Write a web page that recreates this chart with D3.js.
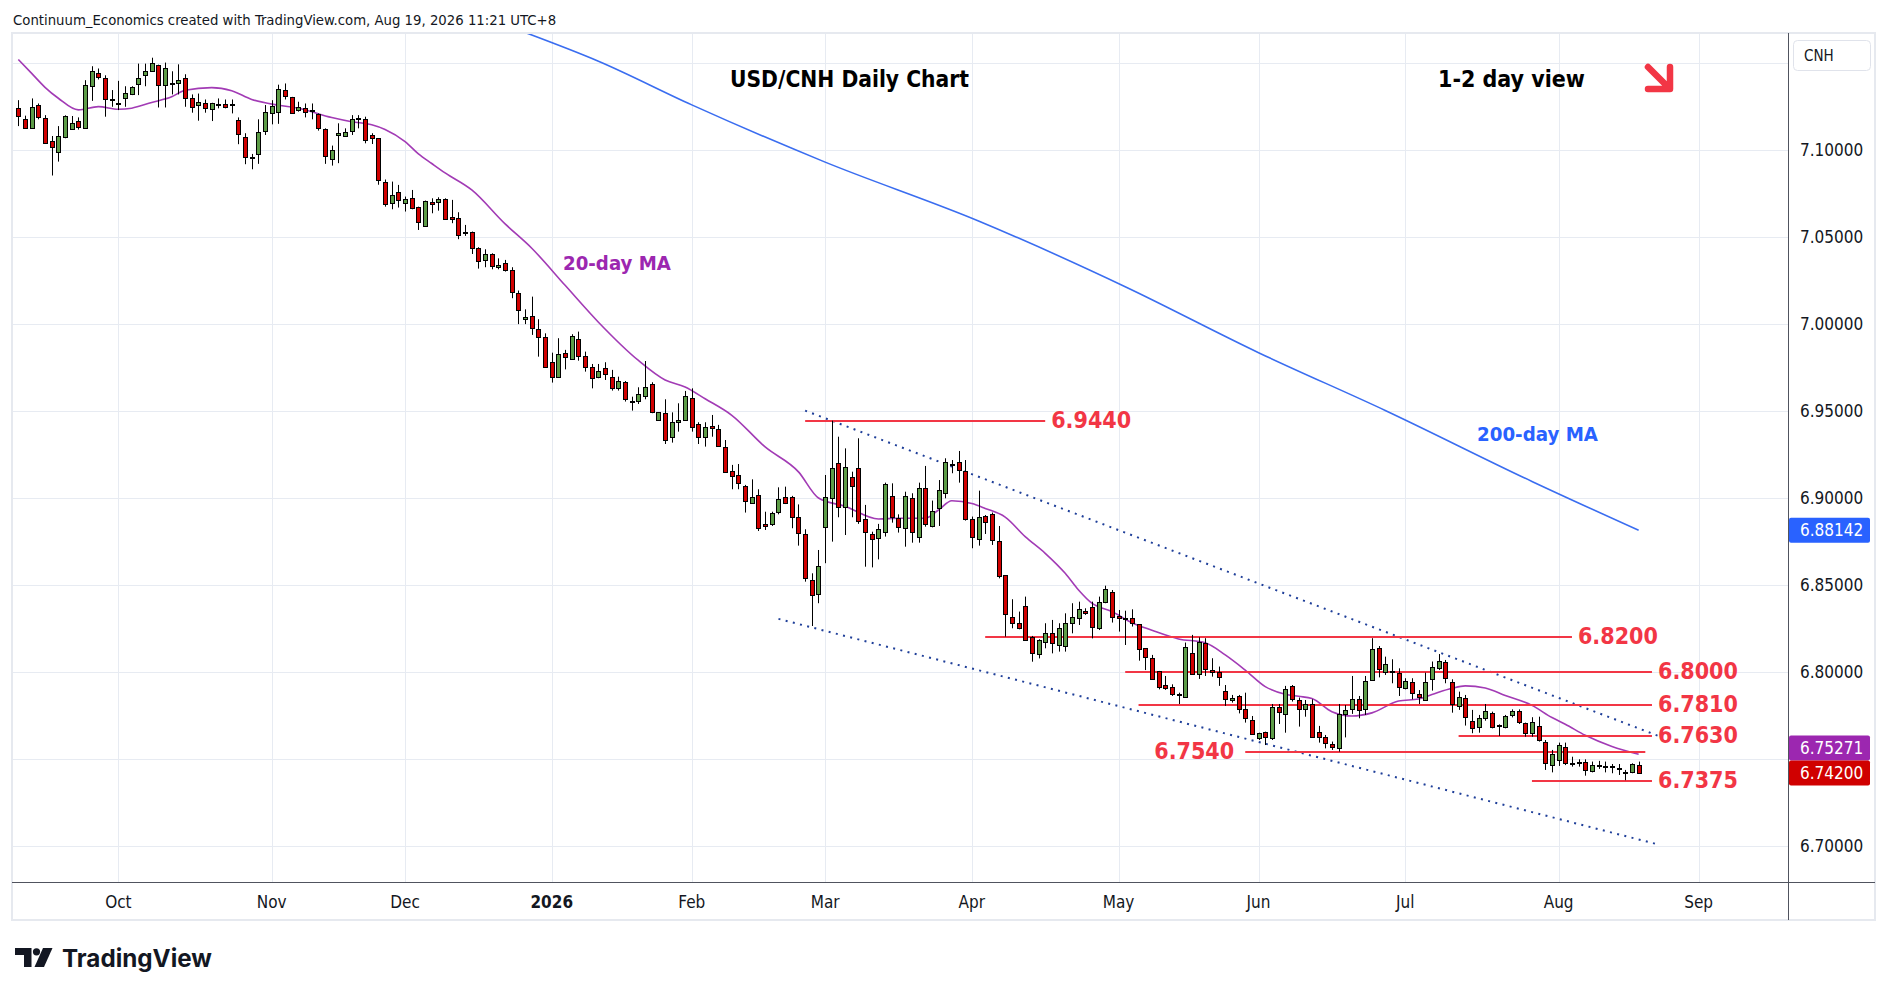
<!DOCTYPE html>
<html>
<head>
<meta charset="utf-8">
<script src="https://cdn.jsdelivr.net/npm/d3@7"></script>
<style>
html, body { margin: 0; padding: 0; background: #fff; }
svg { display: block; }
text { font-family: "DejaVu Sans Condensed", "DejaVu Sans", sans-serif; font-stretch: condensed; }
</style>
</head>
<body>
<svg id="chart" width="1888" height="996"></svg>
<script>
// ---- trading calendar (weekdays, minus market holidays) ----
var firstDay = "2025-09-10", lastDay = "2026-10-02";
var holidays = ["2025-12-25", "2026-01-01"];

// ---- daily candles, USD/CNH, from 2025-09-10 to 2026-08-19 ----
var opens = [
  7.1239, 7.1178, 7.1128, 7.1256, 7.1181, 7.1052, 7.0987, 7.1073, 7.1118, 7.1164,
  7.1128, 7.1368, 7.1445, 7.1416, 7.1290, 7.1272, 7.1296, 7.1324, 7.1378, 7.1429,
  7.1452, 7.1490, 7.1372, 7.1382, 7.1382, 7.1416, 7.1296, 7.1256, 7.1267, 7.1235,
  7.1262, 7.1262, 7.1262, 7.1172, 7.1073, 7.0962, 7.0975, 7.1109, 7.1214, 7.1220,
  7.1347, 7.1302, 7.1229, 7.1239, 7.1229, 7.1204, 7.1118, 7.0947, 7.1086, 7.1082,
  7.1109, 7.1181, 7.1176, 7.1086, 7.1067, 7.0818, 7.0693, 7.0757, 7.0693, 7.0722,
  7.0674, 7.0565, 7.0703, 7.0699, 7.0716, 7.0617, 7.0611, 7.0531, 7.0531, 7.0435,
  7.0368, 7.0400, 7.0326, 7.0352, 7.0310, 7.0176, 7.0027, 7.0046, 6.9969, 6.9923,
  6.9783, 6.9697, 6.9831, 6.9799, 6.9912, 6.9818, 6.9755, 6.9693, 6.9745, 6.9697,
  6.9630, 6.9665, 6.9559, 6.9557, 6.9588, 6.9653, 6.9448, 6.9487, 6.9349, 6.9435,
  6.9448, 6.9573, 6.9423, 6.9349, 6.9414, 6.9395, 6.9291, 6.9155, 6.9132, 6.9069,
  6.8973, 6.9017, 6.8849, 6.8849, 6.8918, 6.9004, 6.9004, 6.8889, 6.8791, 6.8529,
  6.8446, 6.8835, 6.9000, 6.9199, 6.8946, 6.9123, 6.9171, 6.8877, 6.8791, 6.8768,
  6.8806, 6.9013, 6.8883, 6.8826, 6.8998, 6.8774, 6.9056, 6.8839, 6.8944, 6.9027,
  6.9194, 6.9205, 6.9157, 6.8877, 6.8763, 6.8898, 6.8908, 6.8751, 6.8557, 6.8314,
  6.8280, 6.8381, 6.8203, 6.8103, 6.8174, 6.8226, 6.8155, 6.8151, 6.8280, 6.8308,
  6.8351, 6.8375, 6.8255, 6.8400, 6.8458, 6.8322, 6.8309, 6.8308, 6.8274, 6.8136,
  6.8079, 6.8006, 6.7925, 6.7916, 6.7873, 6.7858, 6.8107, 6.7987, 6.8165, 6.8011,
  6.7998, 6.7891, 6.7839, 6.7862, 6.7785, 6.7724, 6.7619, 6.7653, 6.7622, 6.7801,
  6.7757, 6.7920, 6.7839, 6.7785, 6.7814, 6.7653, 6.7624, 6.7586, 6.7561, 6.7757,
  6.7785, 6.7843, 6.7785, 6.7954, 6.8136, 6.8002, 6.8003, 6.7992, 6.7906, 6.7941,
  6.7874, 6.7839, 6.7958, 6.8021, 6.8056, 6.7944, 6.7807, 6.7849, 6.7720, 6.7682,
  6.7734, 6.7763, 6.7696, 6.7686, 6.7753, 6.7776, 6.7705, 6.7651, 6.7690, 6.7600,
  6.7467, 6.7494, 6.7571, 6.7479, 6.7481, 6.7485, 6.7431, 6.7458, 6.7462, 6.7458,
  6.7448, 6.7428, 6.7427, 6.7465
];
var highs = [
  7.1286, 7.1197, 7.1296, 7.1267, 7.1200, 7.1080, 7.1137, 7.1199, 7.1195, 7.1187,
  7.1401, 7.1481, 7.1468, 7.1429, 7.1344, 7.1397, 7.1366, 7.1366, 7.1496, 7.1496,
  7.1530, 7.1490, 7.1502, 7.1452, 7.1492, 7.1435, 7.1319, 7.1324, 7.1290, 7.1271,
  7.1296, 7.1290, 7.1290, 7.1187, 7.1096, 7.0977, 7.1176, 7.1258, 7.1286, 7.1375,
  7.1382, 7.1305, 7.1277, 7.1267, 7.1267, 7.1210, 7.1124, 7.1025, 7.1153, 7.1124,
  7.1200, 7.1200, 7.1191, 7.1096, 7.1067, 7.0830, 7.0818, 7.0799, 7.0732, 7.0770,
  7.0674, 7.0709, 7.0722, 7.0728, 7.0722, 7.0713, 7.0642, 7.0569, 7.0531, 7.0441,
  7.0429, 7.0406, 7.0377, 7.0368, 7.0326, 7.0192, 7.0084, 7.0157, 7.0027, 6.9946,
  6.9835, 6.9918, 6.9851, 6.9941, 6.9956, 6.9841, 6.9770, 6.9770, 6.9780, 6.9736,
  6.9697, 6.9672, 6.9582, 6.9636, 6.9787, 6.9665, 6.9492, 6.9567, 6.9492, 6.9544,
  6.9615, 6.9630, 6.9435, 6.9435, 6.9477, 6.9420, 6.9333, 6.9190, 6.9195, 6.9075,
  6.9107, 6.9050, 6.8921, 6.8921, 6.9061, 6.9065, 6.9012, 6.8963, 6.8820, 6.8567,
  6.8701, 6.9132, 6.9444, 6.9352, 6.9285, 6.9151, 6.9343, 6.8960, 6.8806, 6.8851,
  6.9088, 6.9084, 6.8906, 6.9036, 6.9027, 6.9088, 6.9184, 6.8985, 6.9103, 6.9228,
  6.9218, 6.9270, 6.9218, 6.8893, 6.9042, 6.8902, 6.8916, 6.8839, 6.8557, 6.8418,
  6.8347, 6.8433, 6.8207, 6.8188, 6.8280, 6.8299, 6.8280, 6.8337, 6.8395, 6.8404,
  6.8366, 6.8404, 6.8433, 6.8496, 6.8471, 6.8356, 6.8352, 6.8360, 6.8274, 6.8136,
  6.8098, 6.8006, 6.7977, 6.7929, 6.7881, 6.8169, 6.8213, 6.8199, 6.8194, 6.8079,
  6.8031, 6.7925, 6.7868, 6.7868, 6.7881, 6.7747, 6.7651, 6.7657, 6.7816, 6.7816,
  6.7920, 6.7925, 6.7853, 6.7839, 6.7843, 6.7690, 6.7638, 6.7600, 6.7816, 6.7810,
  6.7977, 6.7862, 6.7977, 6.8194, 6.8149, 6.8088, 6.8073, 6.8021, 6.7964, 6.7964,
  6.7896, 6.7996, 6.8060, 6.8103, 6.8069, 6.7958, 6.7887, 6.7868, 6.7782, 6.7753,
  6.7816, 6.7772, 6.7699, 6.7753, 6.7785, 6.7785, 6.7709, 6.7740, 6.7743, 6.7609,
  6.7552, 6.7594, 6.7594, 6.7513, 6.7498, 6.7498, 6.7485, 6.7489, 6.7485, 6.7471,
  6.7471, 6.7437, 6.7475, 6.7485
];
var lows = [
  7.1137, 7.1124, 7.1124, 7.1176, 7.1034, 7.0853, 7.0933, 7.1067, 7.1115, 7.1117,
  7.1124, 7.1282, 7.1405, 7.1191, 7.1248, 7.1229, 7.1248, 7.1315, 7.1315, 7.1366,
  7.1448, 7.1244, 7.1244, 7.1319, 7.1319, 7.1248, 7.1214, 7.1168, 7.1214, 7.1166,
  7.1239, 7.1239, 7.1210, 7.1033, 7.0918, 7.0889, 7.0920, 7.1086, 7.1147, 7.1150,
  7.1290, 7.1210, 7.1220, 7.1187, 7.1176, 7.1111, 7.0920, 7.0910, 7.0924, 7.1080,
  7.1086, 7.1124, 7.1038, 7.1034, 7.0800, 7.0674, 7.0659, 7.0669, 7.0646, 7.0659,
  7.0540, 7.0559, 7.0636, 7.0651, 7.0598, 7.0579, 7.0487, 7.0506, 7.0402, 7.0318,
  7.0326, 7.0314, 7.0314, 7.0301, 7.0148, 6.9999, 6.9999, 6.9937, 6.9812, 6.9751,
  6.9663, 6.9697, 6.9739, 6.9793, 6.9789, 6.9726, 6.9630, 6.9688, 6.9678, 6.9617,
  6.9617, 6.9554, 6.9502, 6.9540, 6.9567, 6.9487, 6.9444, 6.9310, 6.9318, 6.9381,
  6.9444, 6.9381, 6.9310, 6.9295, 6.9352, 6.9295, 6.9151, 6.9050, 6.9050, 6.8916,
  6.8973, 6.8810, 6.8816, 6.8839, 6.8906, 6.8965, 6.8826, 6.8726, 6.8519, 6.8264,
  6.8395, 6.8625, 6.8749, 6.8889, 6.8787, 6.8889, 6.8851, 6.8605, 6.8601, 6.8647,
  6.8778, 6.8858, 6.8801, 6.8720, 6.8743, 6.8743, 6.8835, 6.8831, 6.8839, 6.8998,
  6.9142, 6.9088, 6.8870, 6.8711, 6.8726, 6.8793, 6.8730, 6.8538, 6.8203, 6.8251,
  6.8245, 6.8180, 6.8059, 6.8078, 6.8136, 6.8107, 6.8117, 6.8117, 6.8222, 6.8270,
  6.8328, 6.8193, 6.8241, 6.8395, 6.8284, 6.8232, 6.8155, 6.8261, 6.8065, 6.8011,
  6.7958, 6.7900, 6.7897, 6.7862, 6.7816, 6.7858, 6.7983, 6.7960, 6.7977, 6.7973,
  6.7920, 6.7805, 6.7824, 6.7762, 6.7709, 6.7638, 6.7609, 6.7580, 6.7609, 6.7701,
  6.7651, 6.7830, 6.7686, 6.7743, 6.7628, 6.7594, 6.7561, 6.7552, 6.7542, 6.7624,
  6.7759, 6.7734, 6.7753, 6.7950, 6.7969, 6.7983, 6.7935, 6.7862, 6.7900, 6.7843,
  6.7816, 6.7835, 6.7893, 6.8011, 6.7935, 6.7766, 6.7782, 6.7692, 6.7648, 6.7651,
  6.7720, 6.7676, 6.7632, 6.7676, 6.7739, 6.7701, 6.7628, 6.7628, 6.7600, 6.7437,
  6.7423, 6.7460, 6.7465, 6.7456, 6.7456, 6.7404, 6.7423, 6.7443, 6.7423, 6.7418,
  6.7408, 6.7378, 6.7418, 6.7414
];
var closes = [
  7.1197, 7.1128, 7.1244, 7.1191, 7.1038, 7.1019, 7.1082, 7.1193, 7.1153, 7.1134,
  7.1376, 7.1452, 7.1422, 7.1290, 7.1288, 7.1270, 7.1330, 7.1359, 7.1416, 7.1456,
  7.1502, 7.1372, 7.1468, 7.1381, 7.1401, 7.1296, 7.1244, 7.1273, 7.1239, 7.1267,
  7.1261, 7.1244, 7.1261, 7.1090, 7.0958, 7.0961, 7.1105, 7.1220, 7.1254, 7.1353,
  7.1311, 7.1210, 7.1248, 7.1220, 7.1228, 7.1124, 7.0968, 7.1000, 7.1100, 7.1105,
  7.1176, 7.1180, 7.1057, 7.1067, 7.0828, 7.0690, 7.0741, 7.0713, 7.0716, 7.0665,
  7.0584, 7.0709, 7.0688, 7.0716, 7.0602, 7.0602, 7.0511, 7.0530, 7.0435, 7.0362,
  7.0400, 7.0333, 7.0339, 7.0310, 7.0186, 7.0080, 7.0042, 6.9975, 6.9923, 6.9751,
  6.9693, 6.9826, 6.9808, 6.9933, 6.9818, 6.9755, 6.9688, 6.9732, 6.9713, 6.9630,
  6.9672, 6.9567, 6.9558, 6.9596, 6.9640, 6.9492, 6.9492, 6.9333, 6.9435, 6.9448,
  6.9588, 6.9410, 6.9349, 6.9406, 6.9400, 6.9299, 6.9151, 6.9128, 6.9084, 6.8985,
  6.9004, 6.8829, 6.8841, 6.8912, 6.8992, 6.8973, 6.8893, 6.8797, 6.8538, 6.8442,
  6.8609, 6.9008, 6.9171, 6.8946, 6.9176, 6.9069, 6.8868, 6.8806, 6.8763, 6.8820,
  6.9079, 6.8893, 6.8831, 6.9013, 6.8806, 6.9056, 6.8849, 6.8925, 6.9046, 6.9205,
  6.9193, 6.9161, 6.8877, 6.8778, 6.8889, 6.8864, 6.8759, 6.8554, 6.8331, 6.8280,
  6.8255, 6.8184, 6.8107, 6.8184, 6.8222, 6.8165, 6.8251, 6.8280, 6.8318, 6.8360,
  6.8337, 6.8261, 6.8400, 6.8477, 6.8314, 6.8308, 6.8307, 6.8280, 6.8130, 6.8088,
  6.7958, 6.7916, 6.7906, 6.7872, 6.7871, 6.8142, 6.7987, 6.8172, 6.8015, 6.8000,
  6.7973, 6.7843, 6.7852, 6.7785, 6.7734, 6.7642, 6.7647, 6.7624, 6.7801, 6.7768,
  6.7900, 6.7843, 6.7785, 6.7814, 6.7628, 6.7628, 6.7594, 6.7567, 6.7759, 6.7782,
  6.7843, 6.7782, 6.7948, 6.8130, 6.8015, 6.8044, 6.8001, 6.7912, 6.7948, 6.7877,
  6.7854, 6.7941, 6.8031, 6.8063, 6.7964, 6.7814, 6.7854, 6.7739, 6.7676, 6.7734,
  6.7778, 6.7686, 6.7694, 6.7747, 6.7776, 6.7715, 6.7651, 6.7711, 6.7609, 6.7475,
  6.7527, 6.7580, 6.7475, 6.7477, 6.7479, 6.7437, 6.7465, 6.7463, 6.7460, 6.7454,
  6.7446, 6.7426, 6.7469, 6.7420
];

// ---- moving averages (bar number, value) ----
var ma20Bars = [0, 2, 4, 6, 9, 12, 15, 17, 20, 23, 25, 29, 32, 35, 39, 42, 47, 50, 53, 55,
  58, 60, 62, 64, 68, 73, 77, 82, 87, 93, 97, 100, 103, 107, 112, 117, 120, 124, 129, 132,
  136, 138, 140, 143, 145, 148, 151, 154, 157, 159, 161, 164, 167, 170, 174, 178, 181, 184, 187, 190,
  192, 194, 197, 200, 203, 207, 210, 212, 215, 217, 220, 223, 227, 230, 232, 235, 239, 243];
var ma20Values = [7.1520, 7.1440, 7.1360, 7.1297, 7.1230, 7.1249, 7.1234, 7.1240, 7.1273, 7.1305,
  7.1343, 7.1358, 7.1340, 7.1290, 7.1257, 7.1240, 7.1186, 7.1162, 7.1145, 7.1118,
  7.1048, 7.0977, 7.0922, 7.0868, 7.0770, 7.0575, 7.0435, 7.0222, 7.0010, 6.9790,
  6.9678, 6.9638, 6.9570, 6.9475, 6.9293, 6.9150, 6.9000, 6.8952, 6.8879, 6.8883,
  6.8883, 6.8931, 6.8984, 6.8968, 6.8940, 6.8890, 6.8778, 6.8682, 6.8567, 6.8471,
  6.8395, 6.8347, 6.8283, 6.8240, 6.8190, 6.8168, 6.8098, 6.8011, 6.7916, 6.7872,
  6.7860, 6.7848, 6.7772, 6.7747, 6.7765, 6.7833, 6.7845, 6.7870, 6.7906, 6.7920,
  6.7908, 6.7865, 6.7808, 6.7738, 6.7700, 6.7636, 6.7572, 6.75271];
var ma200Bars = [76, 87, 101, 121, 144, 166, 186, 205, 227, 243];
var ma200Values = [7.1675, 7.1510, 7.1259, 7.0930, 7.0592, 7.0214, 6.9835, 6.9503, 6.9095, 6.88142];

// ---- drawn studies ----
var levelPrices = [6.9440, 6.8200, 6.8000, 6.7810, 6.7630, 6.7540, 6.7375];
var levelFrom = ["2026-02-25", "2026-04-03", "2026-05-04", "2026-05-06", "2026-07-13", "2026-05-28", "2026-07-28"];
var levelTo = ["2026-04-16", "2026-08-05", "2026-08-21", "2026-08-21", "2026-08-21", "2026-08-20", "2026-08-21"];
var levelLabelSide = ["right", "right", "right", "right", "right", "left", "right"];
var channelUpper = [["2026-02-25", 6.9502], ["2026-08-24", 6.7632]];
var channelLower = [["2026-02-19", 6.8305], ["2026-08-24", 6.7008]];

// ---- axis labels ----
var monthTickMonths = ["2025-10", "2025-11", "2025-12", "2026-01", "2026-02", "2026-03",
  "2026-04", "2026-05", "2026-06", "2026-07", "2026-08", "2026-09"];
var monthTickLabels = ["Oct", "Nov", "Dec", "2026", "Feb", "Mar", "Apr", "May", "Jun", "Jul", "Aug", "Sep"];
var priceTicks = [7.15, 7.10, 7.05, 7.00, 6.95, 6.90, 6.85, 6.80, 6.75, 6.70];

// ---- layout ----
var W = 1888, H = 996;
var plot = { left: 12, top: 33, right: 1788, bottom: 882 };
var frame = { right: 1875, bottom: 920 };
var barWindow = [-0.95, 265.4];          // visible bar range
var priceWindow = [6.6793, 7.1672];      // visible price range

var upColor = "#5d9c47", downColor = "#d00000";
var levelColor = "#f23645";
var ma20Color = "#a23bb5", ma200Color = "#3a6df0";
var gridColor = "#e7ebf2";
var textColor = "#131722";

var parseDay = d3.utcParse("%Y-%m-%d"), fmtDay = d3.utcFormat("%Y-%m-%d");
var calendar = d3.utcDays(parseDay(firstDay), parseDay(lastDay))
  .filter(function (d) { return d.getUTCDay() % 6 !== 0 && holidays.indexOf(fmtDay(d)) < 0; });
var barOf = {};
calendar.forEach(function (d, i) { barOf[fmtDay(d)] = i; });

var x = d3.scaleLinear().domain(barWindow).range([plot.left, plot.right]);
var y = d3.scaleLinear().domain(priceWindow).range([plot.bottom, plot.top]);

var svg = d3.select("#chart");
svg.append("rect").attr("width", W).attr("height", H).attr("fill", "#fff");

svg.append("clipPath").attr("id", "plotClip")
  .append("rect")
  .attr("x", plot.left).attr("y", plot.top)
  .attr("width", plot.right - plot.left).attr("height", plot.bottom - plot.top);

function fitWidth(t, target) {
  var w = t.node().getComputedTextLength();
  var fs = parseFloat(t.attr("font-size"));
  t.attr("font-size", (fs * target / w).toFixed(2));
  return fs * target / w;
}

// ---- grid ----
var monthStarts = monthTickMonths.map(function (m) {
  return d3.min(calendar.filter(function (d) { return fmtDay(d).slice(0, 7) === m; }), function (d) { return barOf[fmtDay(d)]; });
});

var grid = svg.append("g").attr("clip-path", "url(#plotClip)");
grid.selectAll(".vgrid")
  .data(monthStarts)
  .enter().append("line")
  .attr("class", "vgrid")
  .attr("x1", function (d) { return Math.round(x(d)) + 0.5; })
  .attr("x2", function (d) { return Math.round(x(d)) + 0.5; })
  .attr("y1", plot.top).attr("y2", plot.bottom)
  .attr("stroke", gridColor).attr("stroke-width", 1);

grid.selectAll(".hgrid")
  .data(priceTicks)
  .enter().append("line")
  .attr("class", "hgrid")
  .attr("x1", plot.left).attr("x2", plot.right)
  .attr("y1", function (d) { return Math.round(y(d)) + 0.5; })
  .attr("y2", function (d) { return Math.round(y(d)) + 0.5; })
  .attr("stroke", gridColor).attr("stroke-width", 1);

var chart = svg.append("g").attr("clip-path", "url(#plotClip)");

// ---- moving averages ----
var maLine = d3.line()
  .x(function (d) { return x(d[0]); })
  .y(function (d) { return y(d[1]); })
  .curve(d3.curveMonotoneX);

chart.append("path")
  .datum(d3.zip(ma200Bars, ma200Values))
  .attr("d", maLine)
  .attr("fill", "none")
  .attr("stroke", ma200Color)
  .attr("stroke-width", 1.6);

chart.append("path")
  .datum(d3.zip(ma20Bars, ma20Values))
  .attr("d", maLine)
  .attr("fill", "none")
  .attr("stroke", ma20Color)
  .attr("stroke-width", 1.6);

// ---- channel (dotted) ----
[channelUpper, channelLower].forEach(function (ch) {
  chart.append("line")
    .attr("x1", x(barOf[ch[0][0]])).attr("y1", y(ch[0][1]))
    .attr("x2", x(barOf[ch[1][0]])).attr("y2", y(ch[1][1]))
    .attr("stroke", "#1f3f99")
    .attr("stroke-width", 2)
    .attr("stroke-dasharray", "2 5.4");
});

// ---- horizontal levels ----
chart.selectAll(".level")
  .data(levelPrices)
  .enter().append("line")
  .attr("class", "level")
  .attr("x1", function (d, i) { return x(barOf[levelFrom[i]]); })
  .attr("x2", function (d, i) { return x(barOf[levelTo[i]]); })
  .attr("y1", function (d) { return Math.round(y(d)); })
  .attr("y2", function (d) { return Math.round(y(d)); })
  .attr("stroke", levelColor)
  .attr("stroke-width", 2);

// ---- candles ----
var candles = opens.map(function (o, i) {
  return { bar: i, o: o, h: highs[i], l: lows[i], c: closes[i] };
});

var cg = chart.append("g");
cg.selectAll(".wick")
  .data(candles)
  .enter().append("line")
  .attr("class", "wick")
  .attr("x1", function (d) { return Math.round(x(d.bar)) + 0.5; })
  .attr("x2", function (d) { return Math.round(x(d.bar)) + 0.5; })
  .attr("y1", function (d) { return y(d.h); })
  .attr("y2", function (d) { return y(d.l); })
  .attr("stroke", "#000")
  .attr("stroke-width", 1);

cg.selectAll(".body")
  .data(candles)
  .enter().append("rect")
  .attr("class", "body")
  .attr("x", function (d) { return Math.round(x(d.bar)) - 1.5; })
  .attr("width", 4)
  .attr("y", function (d) { return Math.round(y(Math.max(d.o, d.c))) + 0.5; })
  .attr("height", function (d) {
    return Math.max(1, Math.round(y(Math.min(d.o, d.c))) - Math.round(y(Math.max(d.o, d.c))));
  })
  .attr("fill", function (d) { return d.c >= d.o ? upColor : downColor; })
  .attr("stroke", "#000")
  .attr("stroke-width", 1);

// ---- level labels ----
var levelLabels = svg.append("g");
var probe = levelLabels.append("text").attr("font-size", 23).attr("font-weight", "bold").text("6.8200");
var levelFont = fitWidth(probe, 80);
probe.remove();

levelLabels.selectAll(".levelLabel")
  .data(levelPrices)
  .enter().append("text")
  .attr("class", "levelLabel")
  .attr("x", function (d, i) {
    return levelLabelSide[i] === "right" ? x(barOf[levelTo[i]]) + 6 : x(barOf[levelFrom[i]]) - 11;
  })
  .attr("y", function (d) { return y(d) + 7; })
  .attr("text-anchor", function (d, i) { return levelLabelSide[i] === "right" ? "start" : "end"; })
  .attr("font-size", levelFont.toFixed(2))
  .attr("font-weight", "bold")
  .attr("fill", levelColor)
  .text(function (d) { return d.toFixed(4); });

// ---- chart annotations ----
var t20 = svg.append("text").attr("x", 563).attr("y", 270)
  .attr("font-size", 20).attr("font-weight", "bold").attr("fill", "#9c27b0").text("20-day MA");
fitWidth(t20, 108);
var t200 = svg.append("text").attr("x", 1477).attr("y", 441)
  .attr("font-size", 20).attr("font-weight", "bold").attr("fill", "#2962ff").text("200-day MA");
fitWidth(t200, 121);

var title = svg.append("text").attr("x", 730).attr("y", 87)
  .attr("font-size", 23).attr("font-weight", "bold").attr("fill", "#000").text("USD/CNH Daily Chart");
fitWidth(title, 239);
var view = svg.append("text").attr("x", 1438).attr("y", 87)
  .attr("font-size", 23).attr("font-weight", "bold").attr("fill", "#000").text("1-2 day view");
fitWidth(view, 147);

svg.append("path")
  .attr("d", "M1648,67 L1667,86 M1670,67 L1670,89 L1648,89")
  .attr("fill", "none")
  .attr("stroke", levelColor)
  .attr("stroke-width", 6.5)
  .attr("stroke-linecap", "round")
  .attr("stroke-linejoin", "round");

// ---- frame and axes ----
svg.append("rect")
  .attr("x", plot.left).attr("y", plot.top)
  .attr("width", frame.right - plot.left).attr("height", frame.bottom - plot.top)
  .attr("fill", "none").attr("stroke", "#e6e9ef").attr("stroke-width", 2);

svg.append("line")
  .attr("x1", plot.right + 0.5).attr("x2", plot.right + 0.5)
  .attr("y1", plot.top).attr("y2", frame.bottom)
  .attr("stroke", "#50535e").attr("stroke-width", 1);
svg.append("line")
  .attr("x1", plot.left).attr("x2", frame.right)
  .attr("y1", plot.bottom + 0.5).attr("y2", plot.bottom + 0.5)
  .attr("stroke", "#50535e").attr("stroke-width", 1);

// ---- price tags on the axis (drawn before the labels so labels they cover are skipped) ----
var lastBar = closes.length - 1;
var tagH = 25;
var redY = y(closes[lastBar]);
var purpleY = Math.min(y(ma20Values[ma20Values.length - 1]), redY - tagH);
var tags = [
  { v: ma200Values[ma200Values.length - 1], cy: y(ma200Values[ma200Values.length - 1]), fill: "#2962ff" },
  { v: ma20Values[ma20Values.length - 1], cy: purpleY, fill: "#9c27b0" },
  { v: closes[lastBar], cy: redY, fill: "#d00000" }
];
var symbolBox = { x: 1793.5, y: 40.5, w: 77, h: 30 };

// axis spans already taken by the tags and the symbol box
var taken = tags.map(function (d) { return [d.cy - tagH / 2, d.cy + tagH / 2]; })
  .concat([[symbolBox.y, symbolBox.y + symbolBox.h]]);
var shownTicks = priceTicks.filter(function (p) {
  var c = y(p);
  return taken.every(function (s) { return c + 8 < s[0] || c - 8 > s[1]; });
});

svg.selectAll(".ylab")
  .data(shownTicks)
  .enter().append("text")
  .attr("class", "ylab")
  .attr("x", plot.right + 12)
  .attr("y", function (d) { return y(d) + 6; })
  .attr("font-size", 17)
  .attr("fill", textColor)
  .text(function (d) { return d.toFixed(5); });

svg.selectAll(".xlab")
  .data(monthStarts)
  .enter().append("text")
  .attr("class", "xlab")
  .attr("x", function (d) { return x(d); })
  .attr("y", 908)
  .attr("text-anchor", "middle")
  .attr("font-size", 17)
  .attr("font-weight", function (d, i) { return monthTickLabels[i] === "2026" ? "bold" : "normal"; })
  .attr("fill", textColor)
  .text(function (d, i) { return monthTickLabels[i]; });

var tg = svg.selectAll(".tag").data(tags).enter().append("g").attr("class", "tag");
tg.append("rect")
  .attr("x", plot.right + 1).attr("y", function (d) { return d.cy - tagH / 2; })
  .attr("width", 81).attr("height", tagH).attr("rx", 2)
  .attr("fill", function (d) { return d.fill; });
tg.append("text")
  .attr("x", plot.right + 12).attr("y", function (d) { return d.cy + 6; })
  .attr("font-size", 17).attr("fill", "#fff")
  .text(function (d) { return d.v.toFixed(5); });

// symbol box
svg.append("rect")
  .attr("x", symbolBox.x).attr("y", symbolBox.y)
  .attr("width", symbolBox.w).attr("height", symbolBox.h).attr("rx", 4)
  .attr("fill", "#fff").attr("stroke", "#e0e3eb");
svg.append("text").attr("x", 1804).attr("y", 61)
  .attr("font-size", 15).attr("fill", textColor).text("CNH");

// ---- header and footer ----
var credit = svg.append("text").attr("x", 13).attr("y", 25)
  .attr("font-size", 15).attr("fill", textColor)
  .text("Continuum_Economics created with TradingView.com, Aug 19, 2026 11:21 UTC+8");
fitWidth(credit, 543);

var logo = svg.append("g").attr("fill", textColor);
logo.append("path").attr("d", "M15,948 H31.5 V967 H24 V955 H15 Z");
logo.append("circle").attr("cx", 36.5).attr("cy", 951.8).attr("r", 3.6);
logo.append("path").attr("d", "M43,948 H52.5 L44,967 H34.5 Z");
var brand = logo.append("text").attr("x", 62).attr("y", 967)
  .attr("font-size", 25).attr("font-weight", "bold")
  .style("font-family", "Inter, 'Open Sans', sans-serif").style("font-stretch", "normal")
  .text("TradingView");
fitWidth(brand, 150);
</script>
</body>
</html>
